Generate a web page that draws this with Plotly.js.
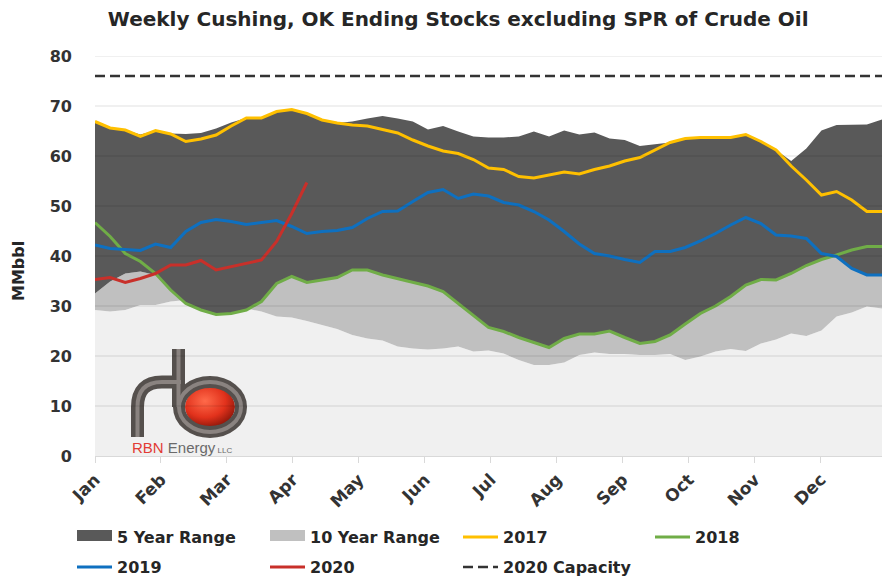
<!DOCTYPE html>
<html>
<head>
<meta charset="utf-8">
<script src="https://cdn.plot.ly/plotly-3.0.1.min.js"></script>
<style>
  html, body { margin: 0; padding: 0; background: #ffffff; }
  #chart { width: 888px; height: 577px; }
</style>
</head>
<body>
<div id="chart"></div>
<script>
// ---- Data (MMbbl, weekly, week index 0..52) ----
const weeks = [0,1,2,3,4,5,6,7,8,9,10,11,12,13,14,15,16,17,18,19,20,21,22,23,24,25,26,
  27,28,29,30,31,32,33,34,35,36,37,38,39,40,41,42,43,44,45,46,47,48,49,50,51,52];

const fiveYearMax = [66.9,65.6,65.2,64.3,65.1,64.5,64.4,64.6,65.5,66.7,67.6,67.6,68.9,69.3,68.5,
  67.2,66.6,66.9,67.5,68.0,67.5,66.9,65.3,66.0,64.9,63.9,63.7,63.7,63.9,64.9,63.9,65.1,64.3,
  64.7,63.5,63.2,62.0,62.4,62.7,63.5,63.7,63.7,63.7,64.3,62.9,61.2,59.0,61.5,65.1,66.2,66.2,66.3,67.3];

const fiveYearMin = [32.5,34.9,36.5,36.9,36.2,33.2,30.5,29.2,28.3,28.5,29.2,30.9,34.5,35.9,34.7,
  35.2,35.7,37.2,37.2,36.2,35.5,34.7,34.0,32.9,30.5,28.2,25.7,24.9,23.7,22.7,21.7,23.5,24.4,
  24.4,25.0,23.7,22.5,22.9,24.2,26.4,28.5,30.0,31.9,34.2,35.3,35.2,36.5,38.1,39.3,39.9,37.5,36.2,36.2];

const tenYearMin = [29.2,28.9,29.2,30.2,30.2,30.9,31.2,31.2,30.9,30.5,29.5,28.9,27.9,27.7,27.0,
  26.2,25.4,24.2,23.5,23.1,21.9,21.5,21.3,21.5,21.9,20.9,21.1,20.5,19.2,18.2,18.2,18.7,20.2,
  20.7,20.4,20.4,20.2,20.2,20.4,19.2,19.9,20.9,21.4,21.0,22.5,23.3,24.5,24.0,25.1,27.9,28.7,29.9,29.5];

const stocks2017 = [66.9,65.6,65.2,63.9,65.1,64.4,62.9,63.4,64.2,66.0,67.6,67.6,68.9,69.3,68.5,
  67.2,66.6,66.2,66.0,65.3,64.6,63.2,62.0,61.0,60.5,59.3,57.6,57.3,55.9,55.6,56.2,56.8,56.4,
  57.3,58.0,59.0,59.7,61.2,62.7,63.5,63.7,63.7,63.7,64.3,62.9,61.2,58.0,55.2,52.2,52.9,51.2,48.9,48.9];

const stocks2018 = [46.7,43.9,40.5,38.9,36.5,33.2,30.5,29.2,28.3,28.5,29.2,30.9,34.5,35.9,34.7,
  35.2,35.7,37.2,37.2,36.2,35.5,34.7,34.0,32.9,30.5,28.2,25.7,24.9,23.7,22.7,21.7,23.5,24.4,
  24.4,25.0,23.7,22.5,22.9,24.2,26.4,28.5,30.0,31.9,34.2,35.3,35.2,36.5,38.1,39.3,40.2,41.2,41.9,41.9];

const stocks2019 = [42.2,41.5,41.3,41.1,42.4,41.7,44.9,46.7,47.3,46.9,46.3,46.7,47.1,45.9,44.5,
  44.9,45.1,45.7,47.5,48.9,49.0,50.9,52.7,53.3,51.5,52.4,52.0,50.7,50.2,48.9,47.2,44.9,42.4,
  40.5,40.0,39.3,38.7,40.9,40.9,41.7,43.0,44.5,46.2,47.7,46.5,44.2,44.0,43.5,40.5,39.9,37.5,36.2,36.2];

const stocks2020 = [35.3,35.7,34.7,35.5,36.5,38.2,38.2,39.1,37.2,37.9,38.5,39.2,42.9,48.5,54.7];

const capacity2020 = 76;

const monthLabels = ['Jan','Feb','Mar','Apr','May','Jun','Jul','Aug','Sep','Oct','Nov','Dec'];
const monthTickPos = [0,4.36,8.72,13.08,17.44,21.8,26.16,30.52,34.88,39.24,43.6,47.96];
const yTickVals = [0,10,20,30,40,50,60,70,80];

// ---- Styles ----
const FONT = 'DejaVu Sans, Verdana, sans-serif';
const C_DARK = '#595959', C_LIGHT = '#c0c0c0', C_BASE = '#f0f0f0';

const traces = [
  { x: weeks, y: tenYearMin, mode: 'lines', line: {width: 0, color: C_BASE},
    fill: 'tozeroy', fillcolor: C_BASE, showlegend: false, hoverinfo: 'skip' },
  { x: weeks, y: fiveYearMin, mode: 'lines', line: {width: 0, color: C_LIGHT},
    fill: 'tonexty', fillcolor: C_LIGHT, showlegend: false, hoverinfo: 'skip' },
  { x: weeks, y: fiveYearMax, mode: 'lines', line: {width: 0, color: C_DARK},
    fill: 'tonexty', fillcolor: C_DARK, showlegend: false, hoverinfo: 'skip' },
  { x: weeks, y: stocks2017, mode: 'lines', name: '2017', legend: 'legend', legendrank: 3,
    line: {color: '#FFC000', width: 3} },
  { x: weeks, y: stocks2018, mode: 'lines', name: '2018', legend: 'legend3', legendrank: 4,
    line: {color: '#70AD47', width: 3} },
  { x: weeks, y: stocks2019, mode: 'lines', name: '2019', legend: 'legend2', legendrank: 5,
    line: {color: '#0E70C0', width: 3} },
  { x: weeks.slice(0, stocks2020.length), y: stocks2020, mode: 'lines', name: '2020',
    legend: 'legend2', legendrank: 6, line: {color: '#C8302A', width: 3} },
  { x: [weeks[0], weeks[weeks.length - 1]], y: [capacity2020, capacity2020], mode: 'lines',
    name: '2020 Capacity', legend: 'legend2', legendrank: 7,
    line: {color: '#333333', width: 2.5, dash: '10px,5px'} },
  // legend swatches for the range bands
  { x: [null], y: [null], mode: 'lines', name: '5 Year Range', legend: 'legend', legendrank: 1,
    line: {color: C_DARK, width: 10}, fill: 'tozeroy', fillcolor: C_DARK },
  { x: [null], y: [null], mode: 'lines', name: '10 Year Range', legend: 'legend', legendrank: 2,
    line: {color: C_LIGHT, width: 10}, fill: 'tozeroy', fillcolor: C_LIGHT }
];

// gridlines drawn over the bands (as in the reference)
const gridShapes = yTickVals.filter(v => v > 0).map(v => ({
  type: 'line', xref: 'paper', x0: 0, x1: 1, yref: 'y', y0: v, y1: v,
  line: {color: 'rgba(0,0,0,0.12)', width: 1}, layer: 'above'
}));

// RBN logo (decorative)
const logoSvg =
  "<svg xmlns='http://www.w3.org/2000/svg' viewBox='0 0 130 100' width='130' height='100'>" +
  "<defs><radialGradient id='rg' cx='0.4' cy='0.35' r='0.75'>" +
  "<stop offset='0' stop-color='#ff6a4a'/><stop offset='0.55' stop-color='#e2321c'/>" +
  "<stop offset='1' stop-color='#7a1006'/></radialGradient></defs>" +
  "<ellipse cx='85' cy='62' rx='25' ry='20' fill='url(#rg)'/>" +
  "<g fill='none'>" +
  "<path d='M12.5,92 V62 Q12.5,37 37,37 H56' stroke='#55504d' stroke-width='13'/>" +
  "<path d='M53.5,4 V62' stroke='#55504d' stroke-width='13'/>" +
  "<ellipse cx='85' cy='62' rx='31' ry='25' stroke='#55504d' stroke-width='12'/>" +
  "<path d='M12.5,92 V62 Q12.5,37 37,37 H56' stroke='#8a8380' stroke-width='4'/>" +
  "<path d='M53.5,4 V62' stroke='#8a8380' stroke-width='4'/>" +
  "<ellipse cx='85' cy='62' rx='31' ry='25' stroke='#8a8380' stroke-width='4'/>" +
  "</g></svg>";

const legendCommon = {
  orientation: 'h', xref: 'container', yref: 'container', xanchor: 'left', yanchor: 'top',
  entrywidth: 143, entrywidthmode: 'pixels', itemwidth: 35,
  font: {family: FONT, size: 16, color: '#262626', weight: 'bold'},
  traceorder: 'normal', bgcolor: 'rgba(0,0,0,0)'
};

const layout = {
  width: 888, height: 577,
  margin: {l: 95, r: 6, t: 56, b: 121},
  paper_bgcolor: '#ffffff', plot_bgcolor: '#ffffff',
  font: {family: FONT, color: '#404040'},
  title: {
    text: '<b>Weekly Cushing, OK Ending Stocks excluding SPR of Crude Oil</b>',
    font: {family: FONT, size: 20, color: '#262626'},
    xref: 'container', x: 0.516, xanchor: 'center',
    yref: 'container', y: 0.967, yanchor: 'middle'
  },
  xaxis: {
    range: [0, 52], tickvals: monthTickPos, ticktext: monthLabels,
    tickangle: -45, tickfont: {family: FONT, size: 17, color: '#333333', weight: 'bold'},
    showgrid: false, zeroline: false, showline: true, linecolor: '#d9d9d9', linewidth: 1,
    ticks: 'outside', ticklen: 6, tickcolor: '#d9d9d9', fixedrange: true
  },
  yaxis: {
    range: [0, 80], tickvals: yTickVals, showgrid: false, zeroline: false,
    tickfont: {family: FONT, size: 16, color: '#333333', weight: 'bold'},
    ticklabelstandoff: 22, fixedrange: true
  },
  shapes: gridShapes,
  images: [{
    source: 'data:image/svg+xml;charset=utf-8,' + encodeURIComponent(logoSvg),
    xref: 'paper', yref: 'paper', x: 30/787, y: 111/400, sizex: 130/787, sizey: 100/400,
    xanchor: 'left', yanchor: 'top', sizing: 'stretch', layer: 'above'
  }],
  annotations: [
    { text: '<b>MMbbl</b>', textangle: -90, xref: 'paper', x: 0, xshift: -77, xanchor: 'center',
      yref: 'y', y: 37, showarrow: false, font: {family: FONT, size: 16, color: '#262626'} },
    { text: '<span style="color:#e23b35">RBN</span> <span style="color:#6a6a6a">Energy</span>' +
            '<span style="color:#6a6a6a;font-size:8px"> LLC</span>',
      xref: 'paper', x: 35/787, xanchor: 'left', yref: 'paper', y: 9/400, yanchor: 'middle',
      showarrow: false, font: {family: 'Liberation Sans, Arial, sans-serif', size: 15} }
  ],
  legend: Object.assign({}, legendCommon, {x: 72/888, y: 1 - 520/577}),
  legend3: Object.assign({}, legendCommon, {x: 650/888, y: 1 - 520/577}),
  legend2: Object.assign({}, legendCommon, {x: 72/888, y: 1 - 550/577}),
  showlegend: true,
  hovermode: false
};

Plotly.newPlot('chart', traces, layout, {displayModeBar: false, staticPlot: true});
</script>
</body>
</html>
